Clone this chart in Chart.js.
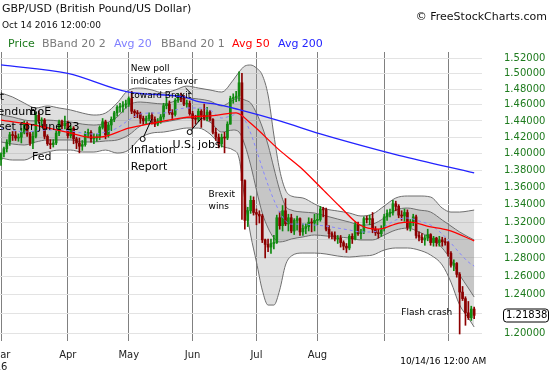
<!DOCTYPE html>
<html><head><meta charset="utf-8">
<script src="https://cdn.jsdelivr.net/npm/chart.js@4.4.0/dist/chart.umd.min.js"></script>
<style>
html,body{margin:0;padding:0;background:#fff;}
#wrap{position:relative;width:550px;height:375px;overflow:hidden;font-family:"DejaVu Sans",Verdana,sans-serif;}
#c{position:absolute;left:0;top:0;}
.t{position:absolute;white-space:nowrap;}
</style></head><body>
<div id="wrap">
<canvas id="c" width="550" height="375"></canvas>
<div class="t" style="left:2px;top:2.5px;font-size:11px;line-height:11px;color:#111">GBP/USD (British Pound/US Dollar)</div>
<div class="t" style="left:2px;top:21px;font-size:9px;line-height:9px;color:#111">Oct 14 2016 12:00:00</div>
<div class="t" style="right:3px;top:11px;font-size:11px;line-height:11px;color:#111">© FreeStockCharts.com</div>
<div class="t" style="left:8px;top:38px;font-size:11px;line-height:11px;color:#1e7b1e">Price</div>
<div class="t" style="left:42px;top:38px;font-size:11px;line-height:11px;color:#7a7a7a">BBand 20 2</div>
<div class="t" style="left:114px;top:38px;font-size:11px;line-height:11px;color:#8080ff">Avg 20</div>
<div class="t" style="left:161px;top:38px;font-size:11px;line-height:11px;color:#7a7a7a">BBand 20 1</div>
<div class="t" style="left:232px;top:38px;font-size:11px;line-height:11px;color:#ff0000">Avg 50</div>
<div class="t" style="left:278px;top:38px;font-size:11px;line-height:11px;color:#2323ff">Avg 200</div>
</div>
<script>
// ---- Candles (trading-day index 0 = Mar 1 2016) ----
const opens = [1.393,1.400,1.406,1.414,1.423,1.422,1.419,1.420,1.426,1.437,
1.424,1.413,1.421,1.447,1.440,1.441,1.421,1.412,1.411,1.413,
1.425,1.439,1.434,1.437,1.422,1.431,1.418,1.413,1.409,1.411,
1.424,1.426,1.418,1.419,1.420,1.432,1.439,1.423,1.435,1.442,
1.450,1.457,1.458,1.460,1.461,1.468,1.452,1.450,1.449,1.443,
1.440,1.443,1.447,1.442,1.436,1.440,1.445,1.459,1.461,1.450,
1.448,1.466,1.471,1.468,1.461,1.462,1.449,1.443,1.442,1.452,
1.447,1.443,1.451,1.442,1.426,1.420,1.412,1.420,1.419,1.436,
1.468,1.469,1.471,1.488,1.368,1.322,1.333,1.345,1.331,1.329,
1.327,1.300,1.295,1.292,1.296,1.297,1.325,1.316,1.333,1.318,
1.325,1.310,1.322,1.324,1.309,1.313,1.315,1.320,1.319,1.322,
1.323,1.335,1.334,1.312,1.307,1.305,1.301,1.302,1.297,1.293,
1.291,1.304,1.301,1.317,1.307,1.309,1.324,1.323,1.324,1.312,
1.308,1.307,1.313,1.326,1.330,1.331,1.341,1.338,1.328,1.327,
1.331,1.314,1.320,1.326,1.305,1.303,1.300,1.302,1.306,1.297,
1.302,1.297,1.300,1.298,1.297,1.285,1.272,1.274,1.262,1.243,
1.236,1.221,1.216,1.225];
const highs = [1.401,1.408,1.417,1.426,1.427,1.427,1.424,1.431,1.440,1.439,
1.426,1.427,1.451,1.452,1.444,1.443,1.423,1.417,1.417,1.428,
1.441,1.441,1.446,1.440,1.434,1.433,1.420,1.419,1.416,1.427,
1.430,1.428,1.424,1.424,1.434,1.443,1.441,1.438,1.445,1.452,
1.459,1.462,1.464,1.466,1.470,1.477,1.454,1.453,1.451,1.446,
1.446,1.450,1.450,1.445,1.443,1.448,1.462,1.469,1.465,1.454,
1.468,1.474,1.475,1.472,1.466,1.465,1.452,1.447,1.455,1.454,
1.461,1.457,1.453,1.443,1.431,1.424,1.424,1.426,1.439,1.471,
1.474,1.477,1.502,1.500,1.369,1.337,1.350,1.349,1.335,1.333,
1.329,1.301,1.301,1.301,1.305,1.328,1.332,1.339,1.347,1.329,
1.329,1.324,1.327,1.325,1.318,1.318,1.325,1.324,1.329,1.329,
1.338,1.337,1.336,1.316,1.309,1.309,1.305,1.305,1.299,1.296,
1.306,1.307,1.320,1.320,1.312,1.326,1.327,1.328,1.331,1.315,
1.312,1.316,1.329,1.334,1.335,1.345,1.344,1.340,1.333,1.335,
1.334,1.323,1.329,1.328,1.309,1.307,1.305,1.312,1.307,1.304,
1.303,1.304,1.303,1.302,1.298,1.287,1.278,1.275,1.264,1.249,
1.238,1.233,1.228,1.227];
const lows = [1.386,1.396,1.402,1.410,1.416,1.416,1.415,1.413,1.424,1.421,
1.410,1.406,1.419,1.437,1.432,1.418,1.410,1.406,1.408,1.411,
1.422,1.430,1.430,1.419,1.419,1.412,1.406,1.401,1.404,1.409,
1.419,1.414,1.412,1.415,1.417,1.430,1.418,1.420,1.428,1.439,
1.446,1.451,1.451,1.456,1.458,1.449,1.444,1.444,1.437,1.436,
1.436,1.440,1.436,1.433,1.434,1.437,1.442,1.455,1.448,1.443,
1.446,1.463,1.464,1.459,1.457,1.447,1.432,1.436,1.439,1.432,
1.441,1.440,1.440,1.424,1.416,1.407,1.408,1.401,1.417,1.436,
1.462,1.464,1.465,1.323,1.312,1.315,1.330,1.328,1.317,1.319,
1.297,1.280,1.287,1.285,1.290,1.296,1.312,1.310,1.316,1.310,
1.308,1.306,1.311,1.305,1.305,1.307,1.310,1.309,1.310,1.317,
1.321,1.326,1.310,1.302,1.301,1.299,1.296,1.292,1.289,1.286,
1.289,1.296,1.300,1.305,1.301,1.307,1.319,1.317,1.308,1.305,
1.302,1.304,1.310,1.322,1.326,1.328,1.333,1.325,1.322,1.321,
1.311,1.310,1.316,1.302,1.299,1.297,1.294,1.299,1.294,1.293,
1.293,1.293,1.293,1.294,1.282,1.270,1.266,1.259,1.199,1.234,
1.208,1.214,1.213,1.215];
const closes = [1.400,1.406,1.414,1.423,1.422,1.419,1.420,1.426,1.437,1.424,
1.413,1.421,1.447,1.440,1.441,1.421,1.412,1.411,1.413,1.425,
1.439,1.434,1.437,1.422,1.431,1.418,1.413,1.409,1.411,1.424,
1.426,1.418,1.419,1.420,1.432,1.439,1.423,1.435,1.442,1.450,
1.457,1.458,1.460,1.461,1.468,1.452,1.450,1.449,1.443,1.440,
1.443,1.447,1.442,1.436,1.440,1.445,1.459,1.461,1.450,1.448,
1.466,1.471,1.468,1.461,1.462,1.449,1.443,1.442,1.452,1.447,
1.443,1.451,1.442,1.426,1.420,1.412,1.420,1.419,1.436,1.468,
1.469,1.471,1.488,1.368,1.322,1.333,1.345,1.331,1.329,1.327,
1.300,1.295,1.292,1.296,1.297,1.325,1.316,1.333,1.318,1.325,
1.310,1.322,1.324,1.309,1.313,1.315,1.320,1.319,1.322,1.323,
1.335,1.334,1.312,1.307,1.305,1.301,1.302,1.297,1.293,1.291,
1.304,1.301,1.317,1.307,1.309,1.324,1.323,1.324,1.312,1.308,
1.307,1.313,1.326,1.330,1.331,1.341,1.338,1.328,1.327,1.331,
1.314,1.320,1.326,1.305,1.303,1.300,1.302,1.306,1.297,1.302,
1.297,1.300,1.298,1.297,1.285,1.272,1.274,1.262,1.243,1.236,
1.221,1.216,1.225,1.21838];

// ---- Bollinger bands & 20-day average, read at these day indices ----
const bandDays = [0,4,8,12,16,20,24,28,32,36,40,44,48,52,56,60,64,68,72,76,80,82,84,86,88,90,92,94,96,98,100,104,108,112,116,120,124,128,132,136,140,144,148,152,155,158,161,163];
const outerUpper = [1.4750,1.4699,1.4623,1.4561,1.4586,1.4561,1.4536,1.4498,1.4473,1.4498,1.4623,1.4788,1.4813,1.4788,1.4750,1.4788,1.4838,1.4813,1.4788,1.4762,1.4915,1.5018,1.5096,1.5109,1.5070,1.4979,1.4724,1.4227,1.3805,1.3570,1.3500,1.3477,1.3408,1.3350,1.3327,1.3304,1.3270,1.3292,1.3384,1.3477,1.3500,1.3500,1.3488,1.3361,1.3315,1.3315,1.3327,1.3338];
const innerUpper = [1.4473,1.4448,1.4411,1.4399,1.4411,1.4399,1.4386,1.4361,1.4349,1.4374,1.4448,1.4598,1.4636,1.4623,1.4611,1.4648,1.4686,1.4674,1.4648,1.4586,1.4661,1.4686,1.4661,1.4623,1.4498,1.4325,1.4105,1.3829,1.3570,1.3384,1.3338,1.3315,1.3304,1.3270,1.3235,1.3201,1.3167,1.3178,1.3247,1.3338,1.3361,1.3338,1.3315,1.3224,1.3156,1.3089,1.3033,1.2999];
const avg20 = [1.4312,1.4288,1.4263,1.4276,1.4288,1.4288,1.4276,1.4251,1.4239,1.4263,1.4312,1.4411,1.4486,1.4498,1.4498,1.4536,1.4561,1.4561,1.4536,1.4436,1.4473,1.4498,1.4411,1.4251,1.4044,1.3829,1.3628,1.3454,1.3315,1.3213,1.3178,1.3178,1.3167,1.3156,1.3133,1.3111,1.3089,1.3089,1.3145,1.3224,1.3247,1.3213,1.3167,1.3066,1.2965,1.2854,1.2755,1.2711];
const innerLower = [1.4142,1.4117,1.4105,1.4142,1.4166,1.4166,1.4166,1.4142,1.4142,1.4154,1.4166,1.4227,1.4337,1.4374,1.4386,1.4411,1.4436,1.4436,1.4386,1.4263,1.4288,1.4263,1.4105,1.3864,1.3570,1.3304,1.3133,1.3021,1.2977,1.2988,1.3010,1.3033,1.3055,1.3044,1.3033,1.3021,1.2999,1.2999,1.3055,1.3111,1.3133,1.3089,1.3021,1.2910,1.2777,1.2613,1.2473,1.2377];
const outerLower = [1.3948,1.3924,1.3924,1.3984,1.4020,1.4044,1.4044,1.4020,1.4020,1.4044,1.4008,1.4044,1.4190,1.4251,1.4263,1.4288,1.4312,1.4312,1.4239,1.4093,1.4044,1.3948,1.3454,1.3055,1.2755,1.2452,1.2292,1.2292,1.2452,1.2722,1.2821,1.2854,1.2854,1.2843,1.2821,1.2810,1.2821,1.2832,1.2887,1.2910,1.2910,1.2887,1.2832,1.2722,1.2537,1.2292,1.2156,1.2062];

// ---- 50 and 200 day averages, read points ----
const avg50Days = [0,11,23,31,34,44,52,63,74,81,86,96,103,110,117,123.5,130,137,141,147.5,154,163];
const avg50 = [1.441,1.435,1.426,1.420,1.420,1.431,1.437,1.444,1.447,1.450,1.437,1.404,1.384,1.3605,1.337,1.317,1.312,1.319,1.320,1.315,1.311,1.299];
const avg200Days = [0,23,44,63,68,74,82,96,110,124,137,163];
const avg200 = [1.511,1.500,1.476,1.470,1.464,1.461,1.454,1.440,1.424,1.410,1.398,1.377];

// ---- Axis ticks ----
const monthDays = [0,23,44,66,88,109,132,154];
const monthLabels = [['Mar','16'],'Apr','May','Jun','Jul','Aug','',''];
const priceTicks = [1.20,1.22,1.24,1.26,1.28,1.30,1.32,1.34,1.36,1.38,1.40,1.42,1.44,1.46,1.48,1.50,1.52];
const hiddenTick = 1.22;

// ---- Annotations (day index, price) ----
const noteTexts = ['Brexit','Referendum','BoE','set for June 23','Fed','New poll','indicates favor','toward Brexit','Inflation','Report','U.S. jobs','Brexit','wins','Flash crash'];
const noteDays = [1.03,12.0,10.0,-0.69,10.66,44.7,44.7,44.7,44.7,44.7,59.1,71.5,71.5,137.9];
const notePrices = [1.4699,1.4511,1.4511,1.4325,1.3960,1.5057,1.4889,1.4711,1.4044,1.3840,1.4105,1.3511,1.3373,1.2208];
const noteSizes = [11,11,11,11,11,9,9,9,11,11,11,9,9,9];
const noteAligns = ['right','right','left','left','left','left','left','left','left','left','left','left','left','left'];
const linkDayA = [48.8,65.0,63.6], linkPriceA = [1.4178,1.4263,1.4813];
const linkDayB = [51.9,69.1,65.7], linkPriceB = [1.4423,1.4436,1.4737];
const linkDot = [true,true,false];
const crosshairLabel = '10/14/16 12:00 AM';

const FONT = '"DejaVu Sans", Verdana, sans-serif';
const UP = '#108a10', DOWN = '#8c0000';
const candleColor = opens.map((o,i)=> closes[i] >= o ? UP : DOWN);
const pts = (xs, ys) => xs.map((x,i)=>({x, y: ys[i]}));

const notesPlugin = {
  id: 'notes',
  afterDatasetsDraw(chart) {
    const {ctx} = chart; const x = chart.scales.x, y = chart.scales.y;
    ctx.save();
    ctx.strokeStyle = '#000'; ctx.lineWidth = 1;
    for (let i = 0; i < linkDayA.length; i++) {
      const ax = x.getPixelForValue(linkDayA[i]), ay = y.getPixelForValue(linkPriceA[i]);
      const bx = x.getPixelForValue(linkDayB[i]), by = y.getPixelForValue(linkPriceB[i]);
      ctx.beginPath(); ctx.moveTo(ax, ay); ctx.lineTo(bx, by); ctx.stroke();
      if (linkDot[i]) { ctx.beginPath(); ctx.arc(ax, ay, 2.5, 0, Math.PI*2); ctx.fillStyle = '#fff'; ctx.fill(); ctx.stroke(); }
    }
    ctx.fillStyle = '#000'; ctx.textBaseline = 'middle';
    for (let i = 0; i < noteTexts.length; i++) {
      ctx.font = noteSizes[i] + 'px ' + FONT; ctx.textAlign = noteAligns[i];
      ctx.fillText(noteTexts[i], x.getPixelForValue(noteDays[i]), y.getPixelForValue(notePrices[i]));
    }
    ctx.restore();
  },
  afterDraw(chart) {
    const {ctx, chartArea} = chart; const x = chart.scales.x, y = chart.scales.y;
    const last = closes[closes.length-1];
    const py = Math.round(y.getPixelForValue(last)) + 0.5;
    ctx.save();
    const bx = chartArea.right + 21.5, bw = 45, bh = 13;
    ctx.beginPath();
    if (ctx.roundRect) ctx.roundRect(bx, py - bh/2, bw, bh, 3); else ctx.rect(bx, py - bh/2, bw, bh);
    ctx.fillStyle = '#fff'; ctx.fill(); ctx.strokeStyle = '#000'; ctx.lineWidth = 1; ctx.stroke();
    ctx.fillStyle = '#000'; ctx.font = '10px ' + FONT; ctx.textBaseline = 'middle'; ctx.textAlign = 'left';
    ctx.fillText(last.toFixed(5), bx + 2.5, py);
    ctx.font = '9px ' + FONT; ctx.textAlign = 'center';
    ctx.fillText(crosshairLabel, x.getPixelForValue(closes.length-1) - 31, 362);
    ctx.restore();
  }
};

new Chart(document.getElementById('c'), {
  type: 'bar',
  data: { datasets: [
    { type:'line', data: pts(bandDays, outerUpper), borderColor:'#6e6e6e', borderWidth:1, pointRadius:0, fill:1, backgroundColor:'rgba(150,150,150,0.3)', cubicInterpolationMode:'monotone', order:10 },
    { type:'line', data: pts(bandDays, outerLower), borderColor:'#6e6e6e', borderWidth:1, pointRadius:0, fill:false, cubicInterpolationMode:'monotone', order:10 },
    { type:'line', data: pts(bandDays, innerUpper), borderColor:'#6e6e6e', borderWidth:1, pointRadius:0, fill:3, backgroundColor:'rgba(110,110,110,0.22)', cubicInterpolationMode:'monotone', order:9 },
    { type:'line', data: pts(bandDays, innerLower), borderColor:'#6e6e6e', borderWidth:1, pointRadius:0, fill:false, cubicInterpolationMode:'monotone', order:9 },
    { type:'bar', data: closes.map((c,i)=>({x:i, y:[lows[i], highs[i]]})), backgroundColor: candleColor, barThickness:1, grouped:false, minBarLength:1, order:6 },
    { type:'bar', data: closes.map((c,i)=>({x:i, y:[opens[i], c]})), backgroundColor: candleColor, barThickness:2, grouped:false, minBarLength:1, order:5 },
    { type:'line', data: pts(bandDays, avg20), borderColor:'#8585ff', borderWidth:1, borderDash:[3,3], pointRadius:0, fill:false, cubicInterpolationMode:'monotone', order:3 },
    { type:'line', data: pts(avg50Days, avg50), borderColor:'#ff0000', borderWidth:1.3, pointRadius:0, fill:false, cubicInterpolationMode:'monotone', order:2 },
    { type:'line', data: pts(avg200Days, avg200), borderColor:'#2323ff', borderWidth:1.3, pointRadius:0, fill:false, cubicInterpolationMode:'monotone', order:1 }
  ]},
  options: {
    responsive:false, animation:false, devicePixelRatio:1,
    layout:{ padding:{ top:52, left:0, right:0, bottom:0 } },
    plugins:{ legend:{display:false}, title:{display:false}, tooltip:{enabled:false}, filler:{drawTime:'beforeDatasetsDraw'} },
    scales:{
      x:{ type:'linear', min:-0.35, max:165.7, offset:false,
        grid:{ color:'#808080', lineWidth:1, drawTicks:false, offset:false },
        border:{ display:false },
        afterBuildTicks(s){ s.ticks = monthDays.map(v=>({value:v})); },
        afterFit(s){ s.height = 34; s.paddingLeft = 0; s.paddingRight = 0; },
        ticks:{ autoSkip:false, maxRotation:0, padding:8, color:'#222', font:{family:FONT, size:10},
          callback(v, i){ return monthLabels[i]; } }
      },
      y:{ type:'logarithmic', position:'right', min:1.1918, max:1.5279,
        grid:{ color:'#e3e3e3', lineWidth:1, drawTicks:false },
        border:{ display:false },
        afterBuildTicks(s){ s.ticks = priceTicks.map(v=>({value:v})); },
        afterFit(s){ s.width = 68; s.paddingTop = 0; s.paddingBottom = 0; },
        ticks:{ autoSkip:false, padding:22, color:'#1e7b1e', font:{family:FONT, size:10},
          callback(v){ return Math.abs(v - hiddenTick) < 1e-6 ? '' : Number(v).toFixed(5); } }
      }
    }
  },
  plugins:[notesPlugin]
});
</script>
</body></html>
